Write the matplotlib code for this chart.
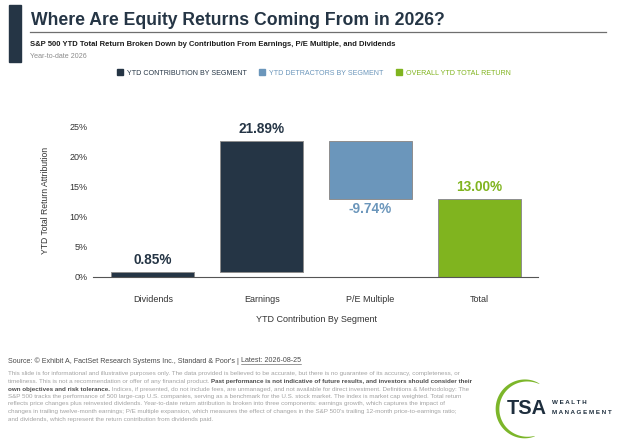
import numpy as np
import matplotlib
matplotlib.use("Agg")
import matplotlib.pyplot as plt
from matplotlib.lines import Line2D
from matplotlib.patches import Polygon, Rectangle

# chart data
segments = ["Dividends", "Earnings", "P/E Multiple", "Total"]
contrib = [0.85, 21.89, -9.74, 13.00]
kinds = ["contribution", "contribution", "detractor", "total"]
yticks = [0, 5, 10, 15, 20, 25]
legend_labels = ["YTD CONTRIBUTION BY SEGMENT", "YTD DETRACTORS BY SEGMENT", "OVERALL YTD TOTAL RETURN"]

navy = "#253545"
blue = "#6b96bb"
green = "#80b41f"
kind_color = {"contribution": navy, "detractor": blue, "total": green}

plt.rcParams["font.family"] = ["Liberation Sans", "DejaVu Sans"]

W, H = 624, 441
fig = plt.figure(figsize=(W / 100, H / 100), dpi=100)
renderer = fig.canvas.get_renderer()


def fx(px):
    return px / W


def fy(py):
    return 1 - py / H


def fit(t, width_px):
    # scale font so the text spans the wanted pixel width
    w = t.get_window_extent(renderer).width
    t.set_fontsize(t.get_fontsize() * width_px / w)
    return t


# waterfall bottoms / heights from the contributions
bottoms, heights = [], []
running = 0.0
for v, k in zip(contrib, kinds):
    if k == "total":
        bottoms.append(0.0)
        heights.append(v)
    else:
        bottoms.append(running if v >= 0 else running + v)
        heights.append(abs(v))
        running += v

# axes
ax = fig.add_axes([fx(93), fy(277), (538 - 93) / W, 150 / H])
x = np.arange(len(segments))
ax.bar(x, heights, bottom=bottoms, width=0.76,
       color=[kind_color[k] for k in kinds], edgecolor="#8e8e8e", linewidth=0.7)

for i, (v, k) in enumerate(zip(contrib, kinds)):
    col = kind_color[k]
    if v < 0:
        ax.annotate(f"{v:.2f}%", (x[i], bottoms[i]), xytext=(0, -7.5), textcoords="offset points",
                    ha="center", va="center", fontsize=9.8, fontweight="bold", color=col)
    else:
        ax.annotate(f"{v:.2f}%", (x[i], bottoms[i] + heights[i]), xytext=(0, 8.5), textcoords="offset points",
                    ha="center", va="center", fontsize=9.8, fontweight="bold", color=col)

ax.set_xlim(-0.55, 3.54)
ax.set_ylim(0, 25)
ax.set_yticks(yticks)
ax.set_yticklabels([f"{t}%" for t in yticks])
ax.set_xticks(x)
ax.set_xticklabels(segments)
ax.tick_params(axis="both", length=0, labelsize=6.5, colors="#333333")
ax.tick_params(axis="x", pad=13)
ax.tick_params(axis="y", pad=4)
for s in ["top", "right", "left"]:
    ax.spines[s].set_visible(False)
ax.spines["bottom"].set_color("#555555")
ax.spines["bottom"].set_linewidth(0.8)
for lab in ax.get_xticklabels() + ax.get_yticklabels():
    lab.set_color("#333333")

ax.set_ylabel("YTD Total Return Attribution", fontsize=6.2, color="#333333")
ax.yaxis.set_label_coords((45 - 93) / 445, 0.513)
ax.yaxis.label.set_va("center")
ax.set_xlabel("YTD Contribution By Segment", fontsize=6.5, color="#333333")
ax.xaxis.set_label_coords((316 - 93) / 445, (277 - 319) / 150)
ax.xaxis.label.set_va("center")

# header
fig.patches.append(Rectangle((fx(9), fy(62)), 12 / W, 57 / H, transform=fig.transFigure,
                             color=navy, zorder=2))
title = fig.text(fx(31), fy(25), "Where Are Equity Returns Coming From in 2026?",
                 fontsize=13, fontweight="bold", color=navy, va="baseline")
fit(title, 411)
fig.lines.append(Line2D([fx(30), fx(606)], [fy(32), fy(32)], transform=fig.transFigure,
                        color="#6f6f6f", linewidth=0.9))
sub = fig.text(fx(30), fy(44), "S&P 500 YTD Total Return Broken Down by Contribution From Earnings, "
               "P/E Multiple, and Dividends", fontsize=6, fontweight="bold", color="#1b1b1b", va="center")
fit(sub, 373)
ytd = fig.text(fx(30), fy(57), "Year-to-date 2026", fontsize=5, color="#8c8c8c", va="center")
fit(ytd, 58)

# legend
handles = [Line2D([], [], marker="s", ls="", markersize=5, color=c) for c in [navy, blue, green]]
fig.legend(handles, legend_labels, loc="center", bbox_to_anchor=(fx(314), fy(73)), ncol=3,
           frameon=False, fontsize=5.15, labelcolor=[navy, blue, green],
           handlelength=0.8, handletextpad=0.6, columnspacing=1.7)

# footer
src = fig.text(fx(8), fy(361), "Source: \u00a9 Exhibit A, FactSet Research Systems Inc., "
               "Standard & Poor's | ", fontsize=5.2, color="#4a4a4a", va="center")
fit(src, 234)
bb = src.get_window_extent(renderer)
latest = fig.text(bb.x1 / W, fy(361), "Latest: 2026-08-25", fontsize=src.get_fontsize(),
                  color="#4a4a4a", va="center")
lb = latest.get_window_extent(renderer)
fig.lines.append(Line2D([lb.x0 / W, lb.x1 / W], [(lb.y0 + 0.5) / H] * 2, transform=fig.transFigure,
                        color="#4a4a4a", linewidth=0.4))

para = [
    [("This slide is for informational and illustrative purposes only. The data provided is believed to be "
      "accurate, but there is no guarantee of its accuracy, completeness, or", False)],
    [("timeliness. This is not a recommendation or offer of any financial product. ", False),
     ("Past performance is not indicative of future results, and investors should consider their", True)],
    [("own objectives and risk tolerance.", True),
     (" Indices, if presented, do not include fees, are unmanaged, and not available for direct investment. "
      "Definitions & Methodology: The", False)],
    [("S&P 500 tracks the performance of 500 large-cap U.S. companies, serving as a benchmark for the U.S. "
      "stock market. The index is market cap weighted. Total return", False)],
    [("reflects price changes plus reinvested dividends. Year-to-date return attribution is broken into three "
      "components: earnings growth, which captures the impact of", False)],
    [("changes in trailing twelve-month earnings; P/E multiple expansion, which measures the effect of changes "
      "in the S&P 500's trailing 12-month price-to-earnings ratio;", False)],
    [("and dividends, which represent the return contribution from dividends paid.", False)],
]
probe = fig.text(0, 0, para[3][0][0], fontsize=4.3)
fit(probe, 460)
psize = probe.get_fontsize()
probe.remove()

line_y = [373, 381, 389, 396.5, 404, 412, 420]
for parts, py in zip(para, line_y):
    xpx = 8
    for txt, bold in parts:
        t = fig.text(fx(xpx), fy(py), txt, fontsize=psize, va="center",
                     fontweight="bold" if bold else "normal",
                     color="#4d4d4d" if bold else "#a3a3a3")
        xpx = t.get_window_extent(renderer).x1

# logo
cx, cy, R = 526, 409, 28.5
ang = np.radians(np.linspace(62, 288, 120))
prof = np.sin(np.linspace(0, np.pi, 120)) ** 0.7
th = 0.3 + 3.4 * prof
outer = [(fx(cx + (R + d / 2) * np.cos(a)), fy(cy - (R + d / 2) * np.sin(a))) for a, d in zip(ang, th)]
inner = [(fx(cx + (R - d / 2) * np.cos(a)), fy(cy - (R - d / 2) * np.sin(a))) for a, d in zip(ang, th)]
fig.patches.append(Polygon(outer + inner[::-1], closed=True, transform=fig.transFigure,
                           color="#7cb62a", lw=0))
tsa = fig.text(fx(507), fy(409), "TSA", fontsize=14, fontweight="bold", color="#1e2e3d", va="center")
fit(tsa, 40)
mg = fig.text(fx(552), fy(413), " ".join("MANAGEMENT"), fontsize=5, color="#1e2e3d", va="center",
              fontweight="bold")
fit(mg, 61)
fig.text(fx(552), fy(403), " ".join("WEALTH"), fontsize=mg.get_fontsize(), color="#1e2e3d", va="center",
         fontweight="bold")

fig.savefig("out.png", dpi=100)
